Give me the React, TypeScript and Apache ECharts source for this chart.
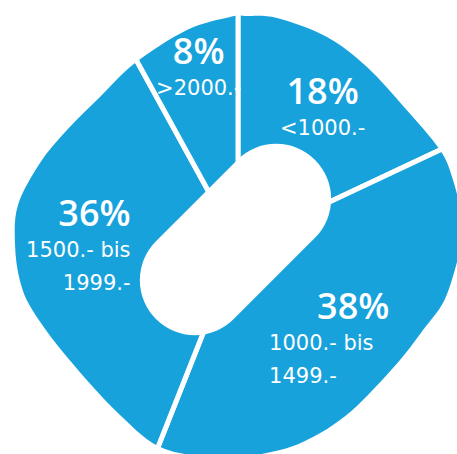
import React, { useEffect, useRef } from "react";
import * as echarts from "echarts";

// ---- data ----
const VALUES = [18, 38, 36, 8];
const RANGE_LINES = [["<1000.-"], ["1000.- bis", "1499.-"], ["1500.- bis", "1999.-"], [">2000.-"]];

// ---- label styling (alignment and fine offsets of label blocks) ----
const LABEL_ALIGN = ["C", "L", "R", "C"];
const LABEL_SHIFT = [
  [0, -5],
  [-24, -15],
  [-2, -9],
  [0, -25],
];

const BLUE = "#17a2dc";

// outline of the rounded "squircle" shape (decorative mask)
const OUTLINE: number[][] = [
  [245, 16], [277, 18], [327, 37], [367, 67], [404, 107], [440, 150], [453, 180], [461, 215],
  [461, 240], [457, 262], [444, 301], [423, 330], [400, 360], [363, 400], [340, 420], [313, 437],
  [280, 450], [230, 457], [165, 449], [120, 415], [67, 357], [33, 311], [20, 281], [15, 244],
  [18, 205], [40, 163], [67, 130], [100, 97], [135, 63], [187, 30], [230, 17],
];

function closedSmoothPath(pts: number[][]): string {
  const n = pts.length;
  let d = `M${pts[0][0]} ${pts[0][1]}`;
  for (let i = 0; i < n; i++) {
    const p0 = pts[(i - 1 + n) % n];
    const p1 = pts[i];
    const p2 = pts[(i + 1) % n];
    const p3 = pts[(i + 2) % n];
    const c1x = p1[0] + (p2[0] - p0[0]) / 6;
    const c1y = p1[1] + (p2[1] - p0[1]) / 6;
    const c2x = p2[0] - (p3[0] - p1[0]) / 6;
    const c2y = p2[1] - (p3[1] - p1[1]) / 6;
    d += ` C${c1x.toFixed(2)} ${c1y.toFixed(2)} ${c2x.toFixed(2)} ${c2y.toFixed(2)} ${p2[0]} ${p2[1]}`;
  }
  return d + " Z";
}

const MASK_D = "M-20 -20 L-20 480 L480 480 L480 -20 Z " + closedSmoothPath(OUTLINE);
echarts.graphic.registerShape("outlineMask", echarts.graphic.extendPath(MASK_D, {}));

export default function App() {
  const ref = useRef<HTMLDivElement>(null);
  useEffect(() => {
    if (!ref.current) return;
    const chart = echarts.init(ref.current, null, { renderer: "svg" });
    const pctBase = { fontFamily: "Open Sans", fontWeight: 600, fontSize: 36, lineHeight: 42, color: "#fff" };
    const rngBase = { fontFamily: "DejaVu Sans", fontWeight: "normal", fontSize: 21, lineHeight: 33, color: "#fff" };
    chart.setOption({
      animation: false,
      backgroundColor: "#fff",
      series: [
        {
          type: "pie",
          center: [238, 245],
          radius: [0, 310],
          startAngle: 90,
          clockwise: true,
          avoidLabelOverlap: false,
          silent: true,
          itemStyle: { color: BLUE, borderColor: "#fff", borderWidth: 5 },
          labelLine: { show: false },
          label: {
            show: true,
            position: "inside",
            formatter: (p: any) => {
              const i = p.dataIndex;
              const a = LABEL_ALIGN[i];
              const pk = a === "L" ? "pL" : "p" + a;
              return `{${pk}|${p.value}%}\n` + RANGE_LINES[i].map((l) => `{r${a}|${l}}`).join("\n");
            },
            rich: {
              pC: { ...pctBase, align: "center" },
              pR: { ...pctBase, align: "right" },
              pL: { ...pctBase, align: "left", padding: [0, 0, 0, 48] },
              rC: { ...rngBase, align: "center" },
              rR: { ...rngBase, align: "right" },
              rL: { ...rngBase, align: "left" },
            },
          },
          labelLayout: (params: any) => ({
            dx: LABEL_SHIFT[params.dataIndex][0],
            dy: LABEL_SHIFT[params.dataIndex][1],
          }),
          data: VALUES.map((v, i) => ({ value: v, name: RANGE_LINES[i].join(" ") })),
        },
      ],
      graphic: [
        {
          type: "outlineMask",
          x: 0,
          y: 0,
          z: 100,
          silent: true,
          style: { fill: "#fff" },
        },
        {
          type: "group",
          x: 235.5,
          y: 239.5,
          rotation: Math.PI / 4,
          z: 100,
          children: [
            {
              type: "rect",
              z: 100,
              shape: { x: -112.5, y: -55, width: 225, height: 110, r: 55 },
              style: { fill: "#fff" },
            },
          ],
        },
      ],
    });
    return () => chart.dispose();
  }, []);
  return <div ref={ref} style={{ position: "fixed", left: 0, top: 0, width: 457, height: 454 }} />;
}
